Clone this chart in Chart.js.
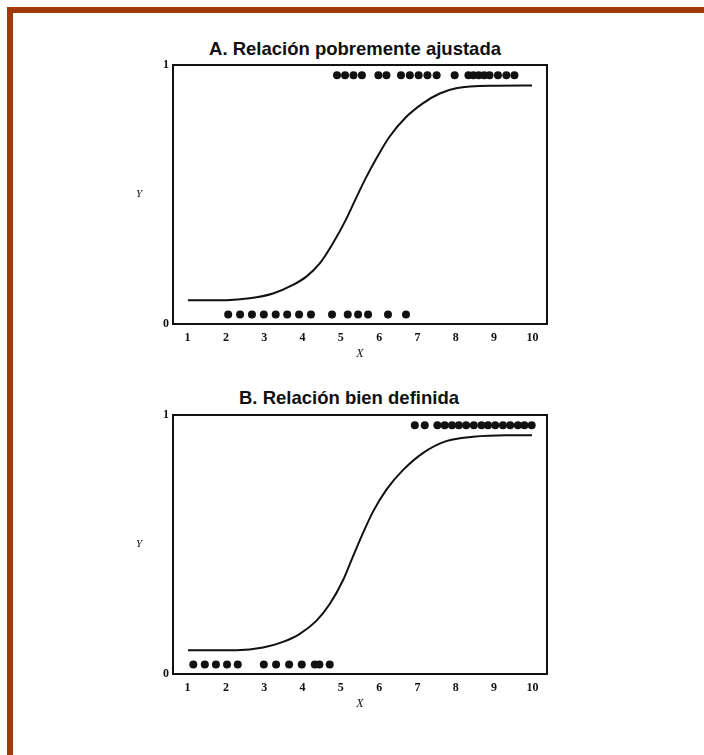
<!DOCTYPE html>
<html>
<head>
<meta charset="utf-8">
<script src="https://cdn.jsdelivr.net/npm/chart.js@4/dist/chart.umd.min.js"></script>
<style>
  html, body { margin: 0; padding: 0; background: #fff; }
  body { width: 704px; height: 755px; position: relative; overflow: hidden; }
  .frame {
    position: absolute; left: 7px; top: 7px; width: 720px; height: 770px;
    border-top: 6px solid #a03a0b; border-left: 6px solid #a03a0b; box-sizing: border-box;
  }
  .panel { position: absolute; left: 0; width: 704px; height: 370px; }
  .title {
    position: absolute; width: 704px; text-align: center; white-space: nowrap;
    font: bold 18.5px "Liberation Sans", Arial, sans-serif; line-height: 18.5px; color: #111;
  }
  .ylab {
    position: absolute; transform: translate(-50%, -50%);
    font: italic 11px "Liberation Serif", "Times New Roman", serif; color: #111;
  }
</style>
</head>
<body>
<div class="frame"></div>

<div class="title" style="top:40px;left:3px">A. Relación pobremente ajustada</div>
<div class="panel" style="top:0px"><canvas id="chartA" width="704" height="370"></canvas></div>
<div class="ylab" style="left:139px;top:193px">Y</div>

<div class="title" style="top:389px;left:-3px">B. Relación bien definida</div>
<div class="panel" style="top:350px"><canvas id="chartB" width="704" height="370"></canvas></div>
<div class="ylab" style="left:139px;top:543px">Y</div>

<script>
// Axis ticks
const xTicks = [1, 2, 3, 4, 5, 6, 7, 8, 9, 10];
const yTicks = [0, 1];
const X_MIN = 0.62;
const X_MAX = 10.38;

// Observed outcomes: Y = 0 rows sit just above the floor, Y = 1 rows just below the ceiling
const LOW_Y = 0.037;
const HIGH_Y = 0.96;

// Panel A: poorly fitted relationship
const aLowX  = [2.06, 2.37, 2.68, 2.99, 3.30, 3.60, 3.91, 4.22, 4.77, 5.18, 5.45, 5.71, 6.23, 6.70];
const aHighX = [4.90, 5.11, 5.33, 5.55, 5.98, 6.19, 6.57, 6.80, 7.03, 7.26, 7.50, 7.97,
                8.33, 8.46, 8.60, 8.74, 8.88, 9.10, 9.32, 9.53];
const aCurveX = [1.01, 2.01, 2.62, 3.23, 3.75, 4.10, 4.45, 4.79, 5.14, 5.40, 5.66, 5.93, 6.27, 6.71, 7.14, 7.58, 8.01, 8.88, 9.99];
const aCurveY = [0.092, 0.092, 0.099, 0.118, 0.151, 0.183, 0.234, 0.311, 0.405, 0.487, 0.566, 0.640, 0.723, 0.800, 0.852, 0.890, 0.910, 0.920, 0.921];

// Panel B: well-defined relationship
const bLowX  = [1.15, 1.45, 1.74, 2.03, 2.31, 2.99, 3.31, 3.65, 3.98, 4.32, 4.44, 4.71];
const bHighX = [6.93, 7.19, 7.52, 7.71, 7.90, 8.08, 8.27, 8.47, 8.67, 8.84, 9.03, 9.23, 9.42, 9.62, 9.79, 9.98];
const bCurveX = [1.01, 2.27, 2.97, 3.49, 3.92, 4.36, 4.71, 5.05, 5.32, 5.58, 5.84, 6.19, 6.62, 7.14, 7.75, 8.45, 9.32, 9.99];
const bCurveY = [0.092, 0.092, 0.102, 0.124, 0.154, 0.205, 0.270, 0.360, 0.455, 0.545, 0.627, 0.712, 0.787, 0.853, 0.899, 0.916, 0.922, 0.922];

const INK = '#111';
const tickFont = { family: '"Liberation Serif", "Times New Roman", serif', size: 12, weight: 'bold' };

// Closed rectangular frame around the plotting area
const frameBox = {
  id: 'frameBox',
  afterDatasetsDraw(chart) {
    const { ctx, chartArea: a } = chart;
    ctx.save();
    ctx.strokeStyle = INK;
    ctx.lineWidth = 2;
    ctx.strokeRect(a.left, a.top, a.right - a.left, a.bottom - a.top);
    ctx.restore();
  }
};

function makePanel(canvasId, lowX, highX, curveX, curveY) {
  return new Chart(document.getElementById(canvasId), {
    type: 'scatter',
    data: {
      datasets: [
        {
          type: 'line',
          data: curveX.map((x, i) => ({ x, y: curveY[i] })),
          borderColor: INK,
          borderWidth: 2,
          pointRadius: 0,
          fill: false,
          cubicInterpolationMode: 'monotone'
        },
        {
          data: lowX.map(x => ({ x, y: LOW_Y })),
          backgroundColor: INK,
          borderWidth: 0,
          pointRadius: 4
        },
        {
          data: highX.map(x => ({ x, y: HIGH_Y })),
          backgroundColor: INK,
          borderWidth: 0,
          pointRadius: 4
        }
      ]
    },
    options: {
      responsive: false,
      animation: false,
      events: [],
      layout: { padding: { top: 65, left: 143, right: 157, bottom: 6 } },
      plugins: { legend: { display: false }, tooltip: { enabled: false }, title: { display: false } },
      scales: {
        x: {
          type: 'linear',
          min: X_MIN,
          max: X_MAX,
          grid: { display: false, drawTicks: false },
          border: { display: false },
          afterBuildTicks: s => { s.ticks = xTicks.map(v => ({ value: v })); },
          afterFit: s => { s.height = 40; },
          ticks: { padding: 7, color: INK, font: tickFont, maxRotation: 0, autoSkip: false },
          title: {
            display: true, text: 'X', color: INK,
            font: { family: '"Liberation Serif", "Times New Roman", serif', size: 12, style: 'italic' },
            padding: { top: 0, bottom: 3 }
          }
        },
        y: {
          type: 'linear',
          min: 0,
          max: 1,
          grid: { display: false, drawTicks: false },
          border: { display: false },
          afterBuildTicks: s => { s.ticks = yTicks.map(v => ({ value: v })); },
          afterFit: s => { s.width = 30; },
          ticks: { padding: 4, color: INK, font: tickFont }
        }
      }
    },
    plugins: [frameBox]
  });
}

makePanel('chartA', aLowX, aHighX, aCurveX, aCurveY);
makePanel('chartB', bLowX, bHighX, bCurveX, bCurveY);
</script>
</body>
</html>
